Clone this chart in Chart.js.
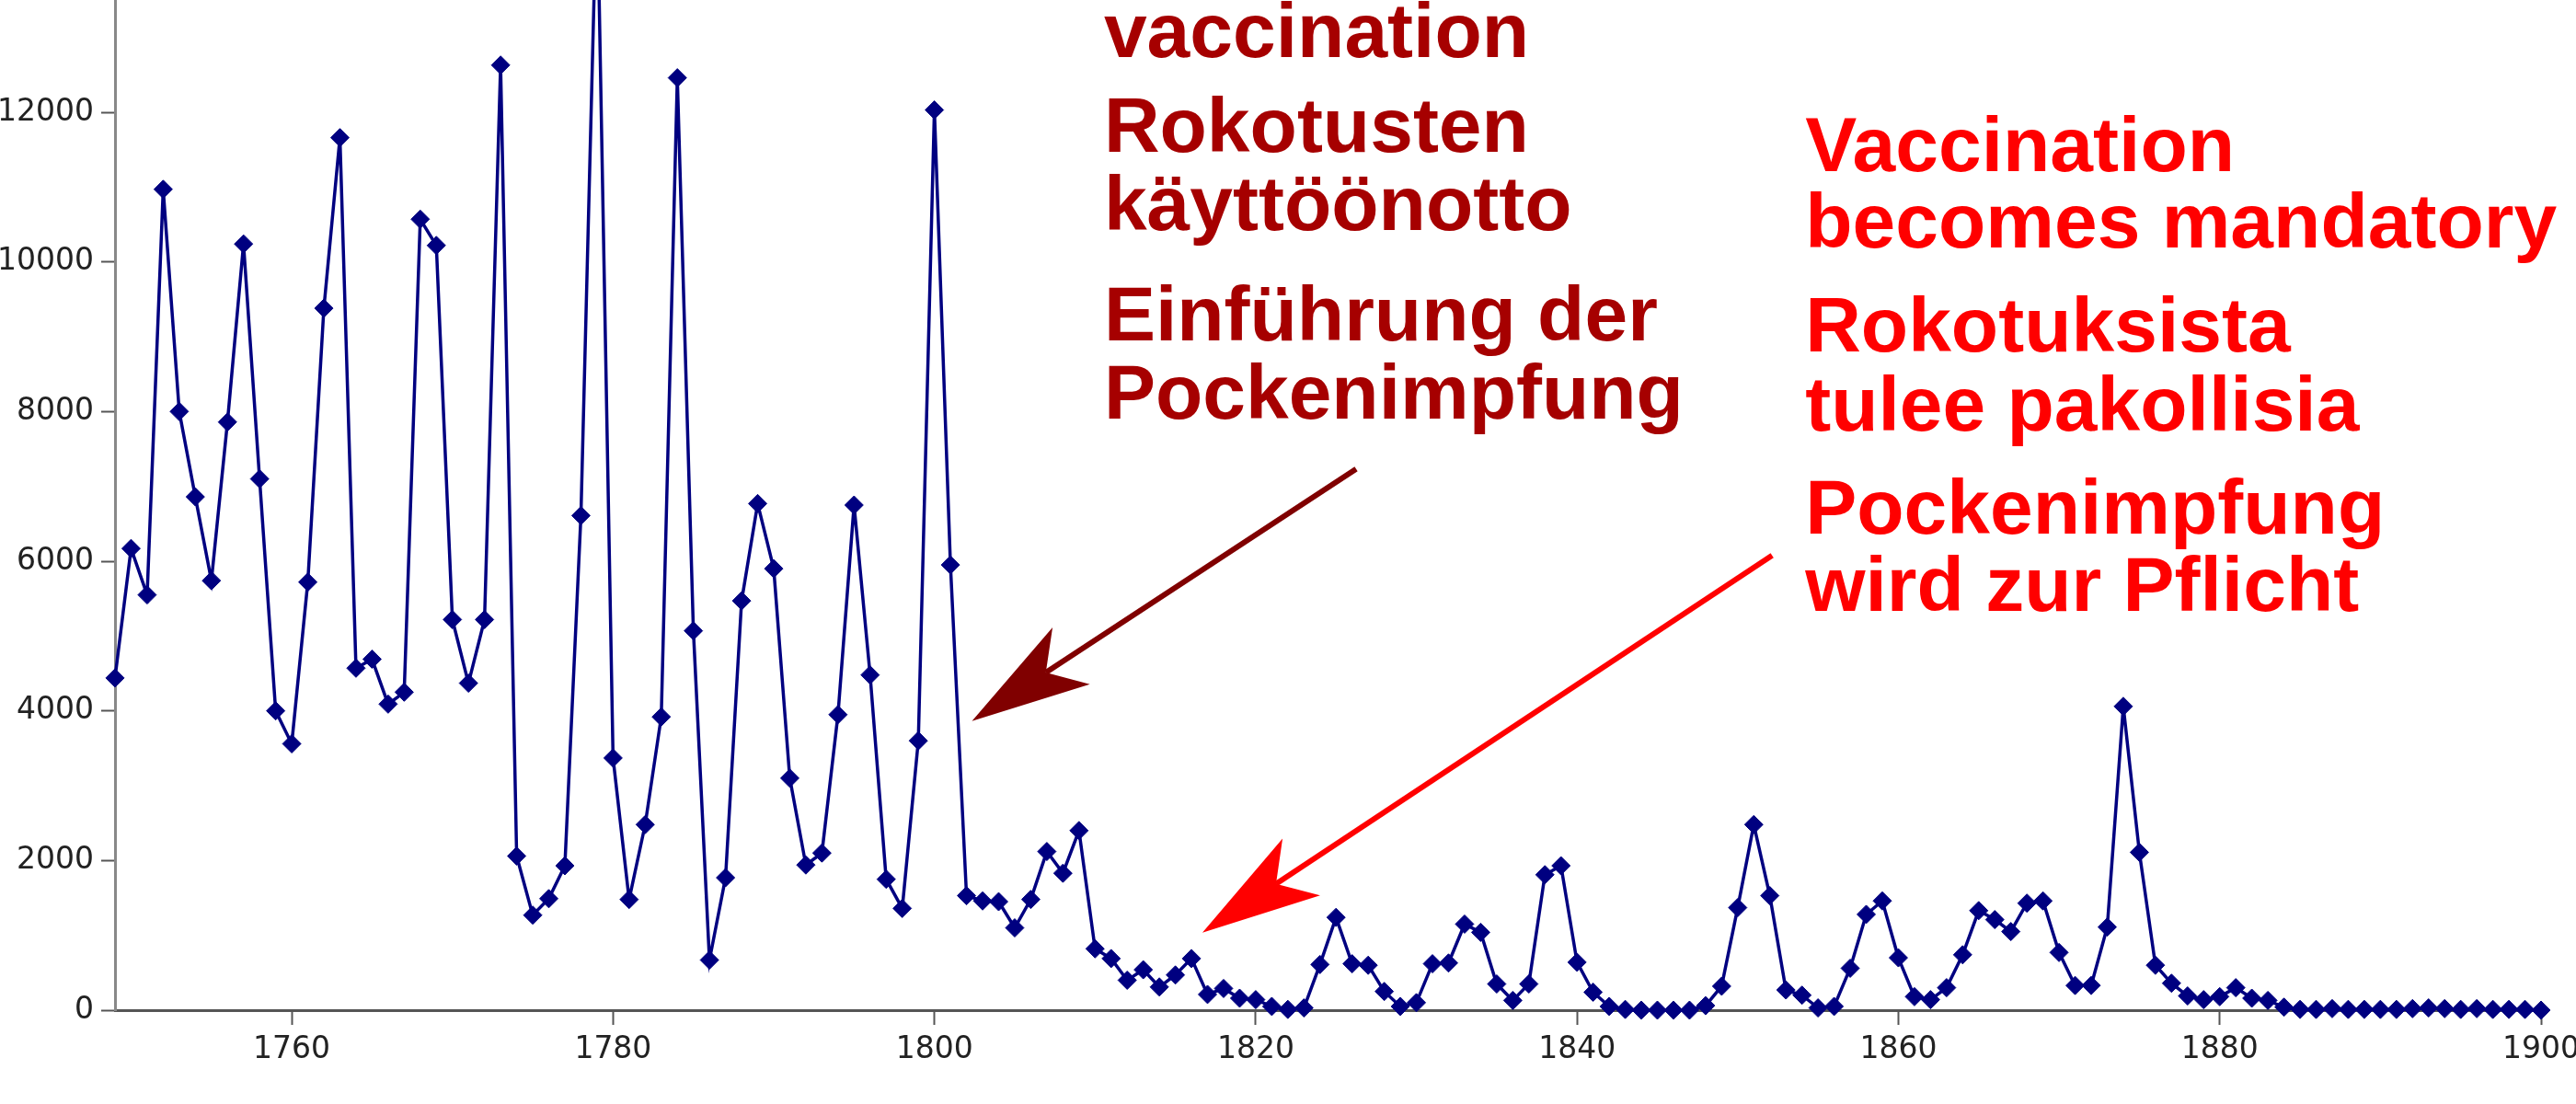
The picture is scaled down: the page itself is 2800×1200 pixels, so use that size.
<!DOCTYPE html>
<html lang="en">
<head>
	<meta charset="utf-8">
	<title>Smallpox deaths 1749-1900</title>
	<style>
html, body {
	margin: 0;
	padding: 0;
	background: #fff;
	overflow: hidden;
}
#chartWrapper {
	width: 2802px;
	height: 1200px;
}
	</style>
</head>
<body>

<div id="chartWrapper">
  <canvas id="myChart"></canvas>
</div>

<script src="https://cdn.jsdelivr.net/npm/chart.js"></script>
<script>
// yearly deaths
const firstYear = 1749;
const deaths1749to1799 = [
	4440, 6170, 5550, 10970, 8000, 6860, 5740, 7860, 10240, 7100,
	4000, 3560, 5720, 9380, 11660, 4570, 4690, 4090, 4250, 10570,
	10220, 5220, 4370, 5220, 12630, 2060, 1270, 1490, 1930, 6610,
	15100, 3370, 1480, 2480, 3920, 12460, 5070, 670, 1770, 5470,
	6770, 5900, 3100, 1940, 2100, 3950, 6750, 4480, 1750, 1360,
	3600
];
const deaths1800to1849 = [
	12030, 5950, 1530, 1460, 1450, 1100, 1480, 2120, 1830, 2400,
	820, 690, 400, 540, 310, 470, 690, 210, 290, 160,
	140, 50, 10, 30, 610, 1240, 620, 600, 250, 50,
	100, 620, 630, 1150, 1040, 350, 130, 350, 1810, 1930,
	640, 240, 50, 10, 0, 0, 0, 0, 60, 320
];
const deaths1850to1900 = [
	1370, 2480, 1530, 270, 200, 30, 50, 560, 1280, 1460,
	700, 180, 140, 300, 740, 1330, 1210, 1050, 1430, 1460,
	770, 330, 330, 1110, 4060, 2110, 600, 360, 190, 140,
	180, 300, 160, 130, 40, 10, 10, 20, 10, 10,
	10, 10, 20, 30, 20, 10, 20, 10, 10, 10,
	0
];
const xTickValues = [1760, 1780, 1800, 1820, 1840, 1860, 1880, 1900];
const yTickValues = [0, 2000, 4000, 6000, 8000, 10000, 12000];

const introText = ['vaccination', 'Rokotusten', 'käyttöönotto', 'Einführung der', 'Pockenimpfung'];
const mandatoryText = ['Vaccination', 'becomes mandatory', 'Rokotuksista', 'tulee pakollisia', 'Pockenimpfung', 'wird zur Pflicht'];

// annotation anchors in data units (year, deaths)
const notes = [
	{
		lines: introText, x: 1810.55, ys: [12735, 11475, 10430, 8955, 7910],
		color: '#a60000', arrowColor: '#800000',
		from: [1826.25, 7233], to: [1802.34, 3865]
	},
	{
		lines: mandatoryText, x: 1854.2, ys: [11217, 10197, 8800, 7750, 6373, 5333],
		color: '#ff0000', arrowColor: '#ff0000',
		from: [1852.14, 6078], to: [1816.68, 1037]
	}
];

const allDeaths = deaths1749to1799.concat(deaths1800to1849, deaths1850to1900);
const points = allDeaths.map((d, i) => ({ x: firstYear + i, y: d }));

function drawArrow(ctx, x0, y0, x1, y1, color) {
	const len = Math.hypot(x1 - x0, y1 - y0);
	const ux = (x1 - x0) / len, uy = (y1 - y0) / len;
	const nx = -uy, ny = ux;
	const headLen = 129, halfW = 37, notch = 96;
	ctx.strokeStyle = color;
	ctx.lineWidth = 6;
	ctx.beginPath();
	ctx.moveTo(x0, y0);
	ctx.lineTo(x1 - ux * notch, y1 - uy * notch);
	ctx.stroke();
	ctx.fillStyle = color;
	ctx.beginPath();
	ctx.moveTo(x1, y1);
	ctx.lineTo(x1 - ux * headLen + nx * halfW, y1 - uy * headLen + ny * halfW);
	ctx.lineTo(x1 - ux * notch, y1 - uy * notch);
	ctx.lineTo(x1 - ux * headLen - nx * halfW, y1 - uy * headLen - ny * halfW);
	ctx.closePath();
	ctx.fill();
}

const notesPlugin = {
	id: 'notes',
	afterDraw(chart) {
		const ctx = chart.ctx;
		const xs = chart.scales.x, ys = chart.scales.y;
		ctx.save();
		for (let n of notes) {
			ctx.font = 'bold 84px "Liberation Sans", Arial, sans-serif';
			ctx.textAlign = 'left';
			ctx.textBaseline = 'alphabetic';
			ctx.fillStyle = n.color;
			n.lines.forEach((t, i) => {
				ctx.fillText(t, xs.getPixelForValue(n.x), ys.getPixelForValue(n.ys[i]));
			});
			drawArrow(ctx,
				xs.getPixelForValue(n.from[0]), ys.getPixelForValue(n.from[1]),
				xs.getPixelForValue(n.to[0]), ys.getPixelForValue(n.to[1]),
				n.arrowColor);
		}
		ctx.restore();
	}
};

const tickFont = { family: 'DejaVu Sans', size: 33 };

new Chart(document.getElementById('myChart'), {
	type: 'line',
	data: {
		datasets: [{
			data: points,
			borderColor: '#000080',
			borderWidth: 3.5,
			pointStyle: 'rectRot',
			pointRadius: 10,
			pointBackgroundColor: '#000080',
			pointBorderColor: '#000080',
			pointBorderWidth: 1,
			tension: 0,
			clip: false
		}]
	},
	options: {
		responsive: true,
		maintainAspectRatio: false,
		animation: false,
		layout: { padding: 0, autoPadding: false },
		plugins: {
			legend: { display: false },
			tooltip: { enabled: false }
		},
		scales: {
			x: {
				type: 'linear',
				min: 1749,
				max: 1900,
				afterBuildTicks: s => { s.ticks = xTickValues.map(v => ({ value: v })); },
				afterFit: s => { s.height = 102; s.paddingRight = 40; s.paddingLeft = 0; },
				grid: { drawOnChartArea: false, drawTicks: true, tickLength: 16, tickColor: '#555', tickWidth: 2 },
				border: { color: '#555', width: 3 },
				ticks: {
					font: tickFont, color: '#222', padding: 8,
					maxRotation: 0, autoSkip: false,
					callback: v => String(v)
				}
			},
			y: {
				min: 0,
				max: 13500,
				afterBuildTicks: s => { s.ticks = yTickValues.map(v => ({ value: v })); },
				afterFit: s => { s.width = 125; s.paddingTop = 0; s.paddingBottom = 0; },
				grid: { drawOnChartArea: false, drawTicks: true, tickLength: 15, tickColor: '#555', tickWidth: 2 },
				border: { color: '#888', width: 3 },
				ticks: {
					font: tickFont, color: '#222', padding: 8,
					autoSkip: false,
					callback: v => String(v)
				}
			}
		}
	},
	plugins: [notesPlugin]
});
</script>
</body>
</html>
